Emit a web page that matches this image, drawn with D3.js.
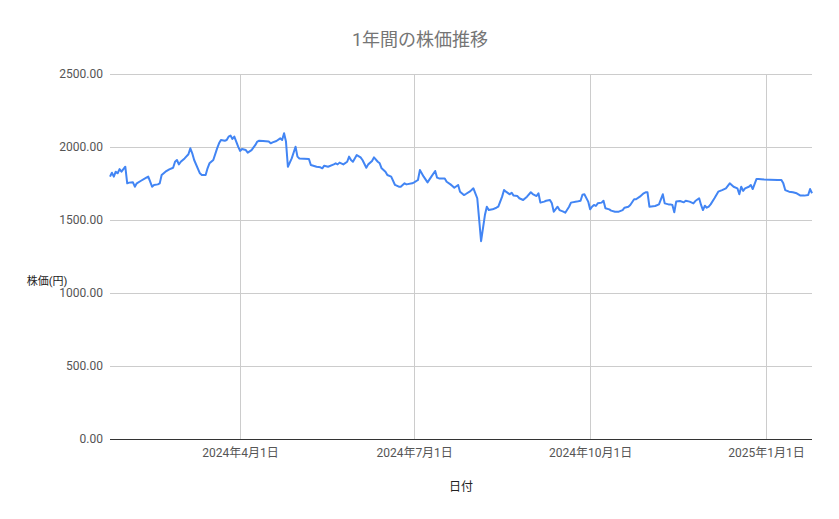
<!DOCTYPE html>
<html><head><meta charset="utf-8">
<script src="https://cdn.jsdelivr.net/npm/d3@7/dist/d3.min.js"></script>
<style>
html,body{margin:0;padding:0;background:#fff;}
svg text{font-family:Roboto,"Noto Sans CJK JP",sans-serif;}
</style></head>
<body><svg id="c" width="839" height="519"></svg>
<script>
const title = "1年間の株価推移";
const xTitle = "日付";
const yTitle = "株価(円)";
const yTicks = [0, 500, 1000, 1500, 2000, 2500];
const xTickDates = ["2024-04-01","2024-07-01","2024-10-01","2025-01-01"];
const xTickLabels = ["2024年4月1日","2024年7月1日","2024年10月1日","2025年1月1日"];
const dates = [
"2024-01-24","2024-01-25","2024-01-26","2024-01-27","2024-01-28","2024-01-29","2024-01-30","2024-02-01","2024-02-02","2024-02-03",
"2024-02-05","2024-02-06","2024-02-07","2024-02-09","2024-02-12","2024-02-13","2024-02-15","2024-02-16","2024-02-18","2024-02-19",
"2024-02-20","2024-02-22","2024-02-24","2024-02-26","2024-02-27","2024-02-28","2024-02-29","2024-03-01","2024-03-03","2024-03-05",
"2024-03-06","2024-03-07","2024-03-08","2024-03-11","2024-03-12","2024-03-14","2024-03-15","2024-03-16","2024-03-18","2024-03-20",
"2024-03-21","2024-03-22","2024-03-24","2024-03-25","2024-03-26","2024-03-27","2024-03-28","2024-03-29","2024-03-30","2024-03-31",
"2024-04-01","2024-04-02","2024-04-04","2024-04-05","2024-04-07","2024-04-09","2024-04-10","2024-04-11","2024-04-13","2024-04-16",
"2024-04-17","2024-04-18","2024-04-20","2024-04-22","2024-04-23","2024-04-24","2024-04-25","2024-04-26","2024-04-28","2024-04-30",
"2024-05-01","2024-05-02","2024-05-07","2024-05-08","2024-05-11","2024-05-13","2024-05-14","2024-05-15","2024-05-17","2024-05-20",
"2024-05-21","2024-05-22","2024-05-23","2024-05-25","2024-05-27","2024-05-28","2024-05-29","2024-05-30","2024-06-01","2024-06-03",
"2024-06-04","2024-06-06","2024-06-07","2024-06-09","2024-06-10","2024-06-12","2024-06-13","2024-06-14","2024-06-16","2024-06-17",
"2024-06-19","2024-06-21","2024-06-23","2024-06-24","2024-06-26","2024-06-27","2024-06-30","2024-07-01","2024-07-03","2024-07-04",
"2024-07-06","2024-07-08","2024-07-10","2024-07-12","2024-07-13","2024-07-14","2024-07-17","2024-07-18","2024-07-20","2024-07-21",
"2024-07-22","2024-07-24","2024-07-25","2024-07-27","2024-07-28","2024-07-30","2024-07-31","2024-08-01","2024-08-02","2024-08-03",
"2024-08-05","2024-08-07","2024-08-08","2024-08-09","2024-08-11","2024-08-13","2024-08-14","2024-08-16","2024-08-17","2024-08-18",
"2024-08-20","2024-08-21","2024-08-22","2024-08-24","2024-08-25","2024-08-27","2024-08-29","2024-08-31","2024-09-01","2024-09-03",
"2024-09-04","2024-09-05","2024-09-07","2024-09-08","2024-09-10","2024-09-11","2024-09-12","2024-09-14","2024-09-15","2024-09-17",
"2024-09-18","2024-09-20","2024-09-21","2024-09-24","2024-09-26","2024-09-27","2024-09-28","2024-09-30","2024-10-01","2024-10-02",
"2024-10-03","2024-10-04","2024-10-05","2024-10-07","2024-10-08","2024-10-09","2024-10-11","2024-10-12","2024-10-14","2024-10-16",
"2024-10-18","2024-10-19","2024-10-21","2024-10-22","2024-10-24","2024-10-25","2024-10-27","2024-10-29","2024-10-30","2024-10-31",
"2024-11-01","2024-11-04","2024-11-06","2024-11-08","2024-11-09","2024-11-11","2024-11-12","2024-11-13","2024-11-14","2024-11-15",
"2024-11-17","2024-11-19","2024-11-20","2024-11-22","2024-11-24","2024-11-25","2024-11-27","2024-11-28","2024-11-29","2024-11-30",
"2024-12-01","2024-12-02","2024-12-03","2024-12-05","2024-12-07","2024-12-09","2024-12-11","2024-12-13","2024-12-15","2024-12-17",
"2024-12-18","2024-12-19","2024-12-20","2024-12-21","2024-12-23","2024-12-24","2024-12-25","2024-12-27","2024-12-28","2024-12-31",
"2025-01-03","2025-01-07","2025-01-09","2025-01-10","2025-01-11","2025-01-13","2025-01-15","2025-01-17","2025-01-19","2025-01-21",
"2025-01-23","2025-01-24","2025-01-25"
];
const prices = [
1797,1824,1797,1831,1820,1849,1831,1865,1751,1756,
1758,1728,1751,1767,1790,1797,1728,1740,1744,1751,
1808,1831,1847,1858,1899,1911,1881,1899,1922,1950,
1991,1957,1911,1820,1808,1808,1854,1888,1911,1991,
2025,2048,2043,2048,2071,2078,2055,2071,2037,2002,
1973,1986,1979,1961,1979,2014,2037,2043,2041,2037,
2025,2032,2041,2059,2048,2094,2037,1865,1922,2002,
1934,1922,1918,1877,1865,1861,1854,1872,1865,1881,
1888,1881,1893,1881,1899,1934,1911,1899,1945,1929,
1911,1858,1881,1904,1929,1899,1888,1854,1831,1808,
1797,1740,1728,1728,1751,1744,1751,1758,1774,1842,
1797,1758,1797,1836,1790,1785,1785,1762,1744,1733,
1721,1740,1694,1671,1678,1694,1705,1717,1683,1649,
1355,1534,1591,1568,1573,1584,1591,1660,1705,1694,
1676,1687,1667,1664,1649,1637,1660,1690,1678,1664,
1683,1619,1626,1632,1637,1614,1557,1591,1568,1557,
1550,1591,1619,1626,1632,1673,1676,1626,1573,1591,
1603,1596,1614,1619,1632,1580,1573,1564,1557,1557,
1568,1584,1591,1603,1642,1642,1660,1683,1690,1690,
1591,1596,1607,1676,1614,1607,1607,1603,1553,1626,
1630,1621,1632,1626,1614,1630,1649,1603,1568,1598,
1584,1591,1607,1649,1694,1705,1717,1751,1728,1717,
1676,1728,1699,1717,1728,1740,1712,1781,1781,1778,
1776,1774,1774,1751,1705,1694,1690,1683,1667,1667,
1671,1712,1683
];

const parse = d3.timeParse("%Y-%m-%d");
const data = dates.map((d, i) => ({date: parse(d), value: prices[i]}));
const svg = d3.select("#c");
const L = 110, R = 812, T = 74, B = 439;

const x = d3.scaleTime().domain(d3.extent(data, d => d.date)).range([L, R]);
const y = d3.scaleLinear().domain([0, 2500]).range([B, T]);

// horizontal gridlines
svg.append("g").selectAll("line").data(yTicks.filter(v => v > 0)).join("line")
  .attr("x1", L).attr("x2", R).attr("y1", d => y(d)).attr("y2", d => y(d))
  .attr("stroke", "#cccccc").attr("stroke-width", 1).attr("shape-rendering", "crispEdges");
// vertical gridlines
const xt = xTickDates.map(parse);
svg.append("g").selectAll("line").data(xt).join("line")
  .attr("x1", d => x(d)).attr("x2", d => x(d)).attr("y1", T).attr("y2", B)
  .attr("stroke", "#cccccc").attr("stroke-width", 1).attr("shape-rendering", "crispEdges");

// y axis labels
const yAxis = d3.axisLeft(y).tickValues(yTicks).tickSize(0).tickPadding(7).tickFormat(d3.format(".2f"));
const gy = svg.append("g").attr("transform", `translate(${L},0)`).call(yAxis);
gy.select(".domain").remove();
gy.selectAll("text").attr("fill", "#555").style("font-size", "12px");

// x axis labels
const xAxis = d3.axisBottom(x).tickValues(xt).tickSize(0).tickPadding(9)
  .tickFormat((d, i) => xTickLabels[i]);
const gx = svg.append("g").attr("transform", `translate(0,${B})`).call(xAxis);
gx.select(".domain").remove();
gx.selectAll("text").attr("fill", "#555").style("font-size", "12px");

// baseline
svg.append("line").attr("x1", L).attr("x2", R).attr("y1", y(0)).attr("y2", y(0))
  .attr("stroke", "#333").attr("stroke-width", 1).attr("shape-rendering", "crispEdges");

// line
const line = d3.line().x(d => x(d.date)).y(d => y(d.value));
svg.append("path").datum(data).attr("d", line)
  .attr("fill", "none").attr("stroke", "#4285f4").attr("stroke-width", 2)
  .attr("stroke-linejoin", "round");

// titles
svg.append("text").attr("x", 420).attr("y", 46).attr("text-anchor", "middle")
  .attr("fill", "#757575").style("font-size", "18px").text(title);
svg.append("text").attr("x", 461).attr("y", 491).attr("text-anchor", "middle")
  .attr("fill", "#222").style("font-size", "12px").text(xTitle);
svg.append("text").attr("x", 47).attr("y", 285).attr("text-anchor", "middle")
  .attr("fill", "#222").style("font-size", "11px").text(yTitle);
</script></body></html>
